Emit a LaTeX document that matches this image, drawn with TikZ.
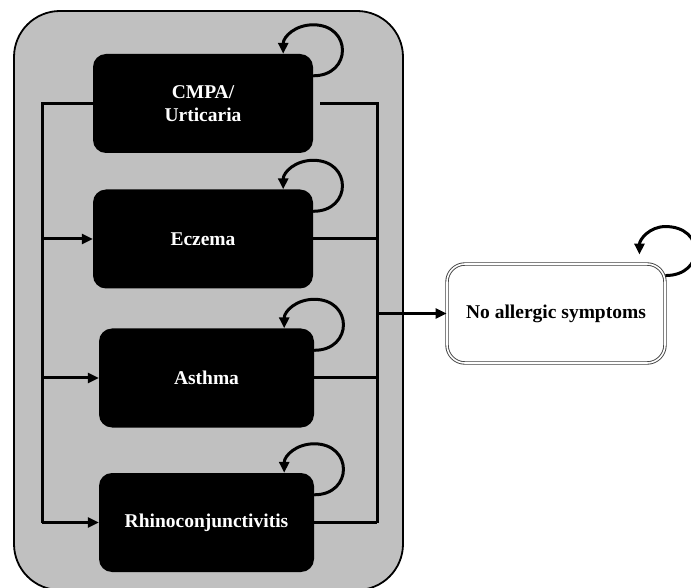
\documentclass[tikz,border=0pt]{standalone}
\usepackage{fontspec}
\setmainfont{Liberation Serif}
\usetikzlibrary{arrows.meta}
\definecolor{bggray}{RGB}{192,192,192}

\begin{document}
\begin{tikzpicture}[x=1pt,y=1pt,
    state/.style={fill=black,text=white,rounded corners=13pt,minimum width=220pt,
      minimum height=99pt,inner sep=0pt,align=center,font=\fontsize{19.5}{23}\selectfont\bfseries},
    line/.style={line width=3pt},
    arr/.style={line width=3pt,-{Triangle[length=11pt,width=10pt]}}]
  \useasboundingbox (0,0) rectangle (691,587);
  % Bakgrund
  \draw[fill=bggray,line width=1.8pt,rounded corners=46pt] (14,-3) rectangle (403,576);
  % Tillstånd
  \node[state] (cmpa) at (203,483.5) {CMPA/\\Urticaria};
  \node[state] (eczema) at (203,348) {Eczema};
  \node[state,minimum width=215pt] (asthma) at (206.5,209) {Asthma};
  \node[state,minimum width=215pt] (rhino) at (206.5,64.5) {Rhinoconjunctivitis};
  \node[draw=black!75,double,double distance=1.6pt,line width=0.9pt,fill=white,
    rounded corners=18pt,minimum width=218pt,minimum height=99pt,
    font=\fontsize{19.5}{23}\selectfont\bfseries] (noall) at (556,273.5) {No allergic symptoms};
  % Vänster linje
  \coordinate (lb) at (42,64.5);
  \draw[line] (cmpa.west) -| (lb);
  \foreach \n in {eczema,asthma,rhino}
    \draw[arr] (lb |- \n.west) -- (\n.west);
  % Höger linje
  \coordinate (rb) at (377,64.5);
  \draw[line,shorten <=7pt] (cmpa.east) -| (rb);
  \foreach \n in {eczema,asthma,rhino}
    \draw[line] (\n.east) -- (\n.east -| rb);
  \draw[arr] (noall.west -| rb) -- (noall.west);
  % Slingor
  \foreach \n in {cmpa,eczema,asthma,rhino}
    \draw[arr] ([yshift=-22pt]\n.north east) .. controls +(39,0) and +(39,0) .. ++(0,51)
      .. controls +(-18,0) and +(0,17) .. ++(-30,-29);
  \draw[arr] ([yshift=-12pt]noall.north east) .. controls +(40,0) and +(40,0) .. ++(0,49)
    .. controls +(-16,0) and +(0,15) .. ++(-26,-28);
\end{tikzpicture}
\end{document}
